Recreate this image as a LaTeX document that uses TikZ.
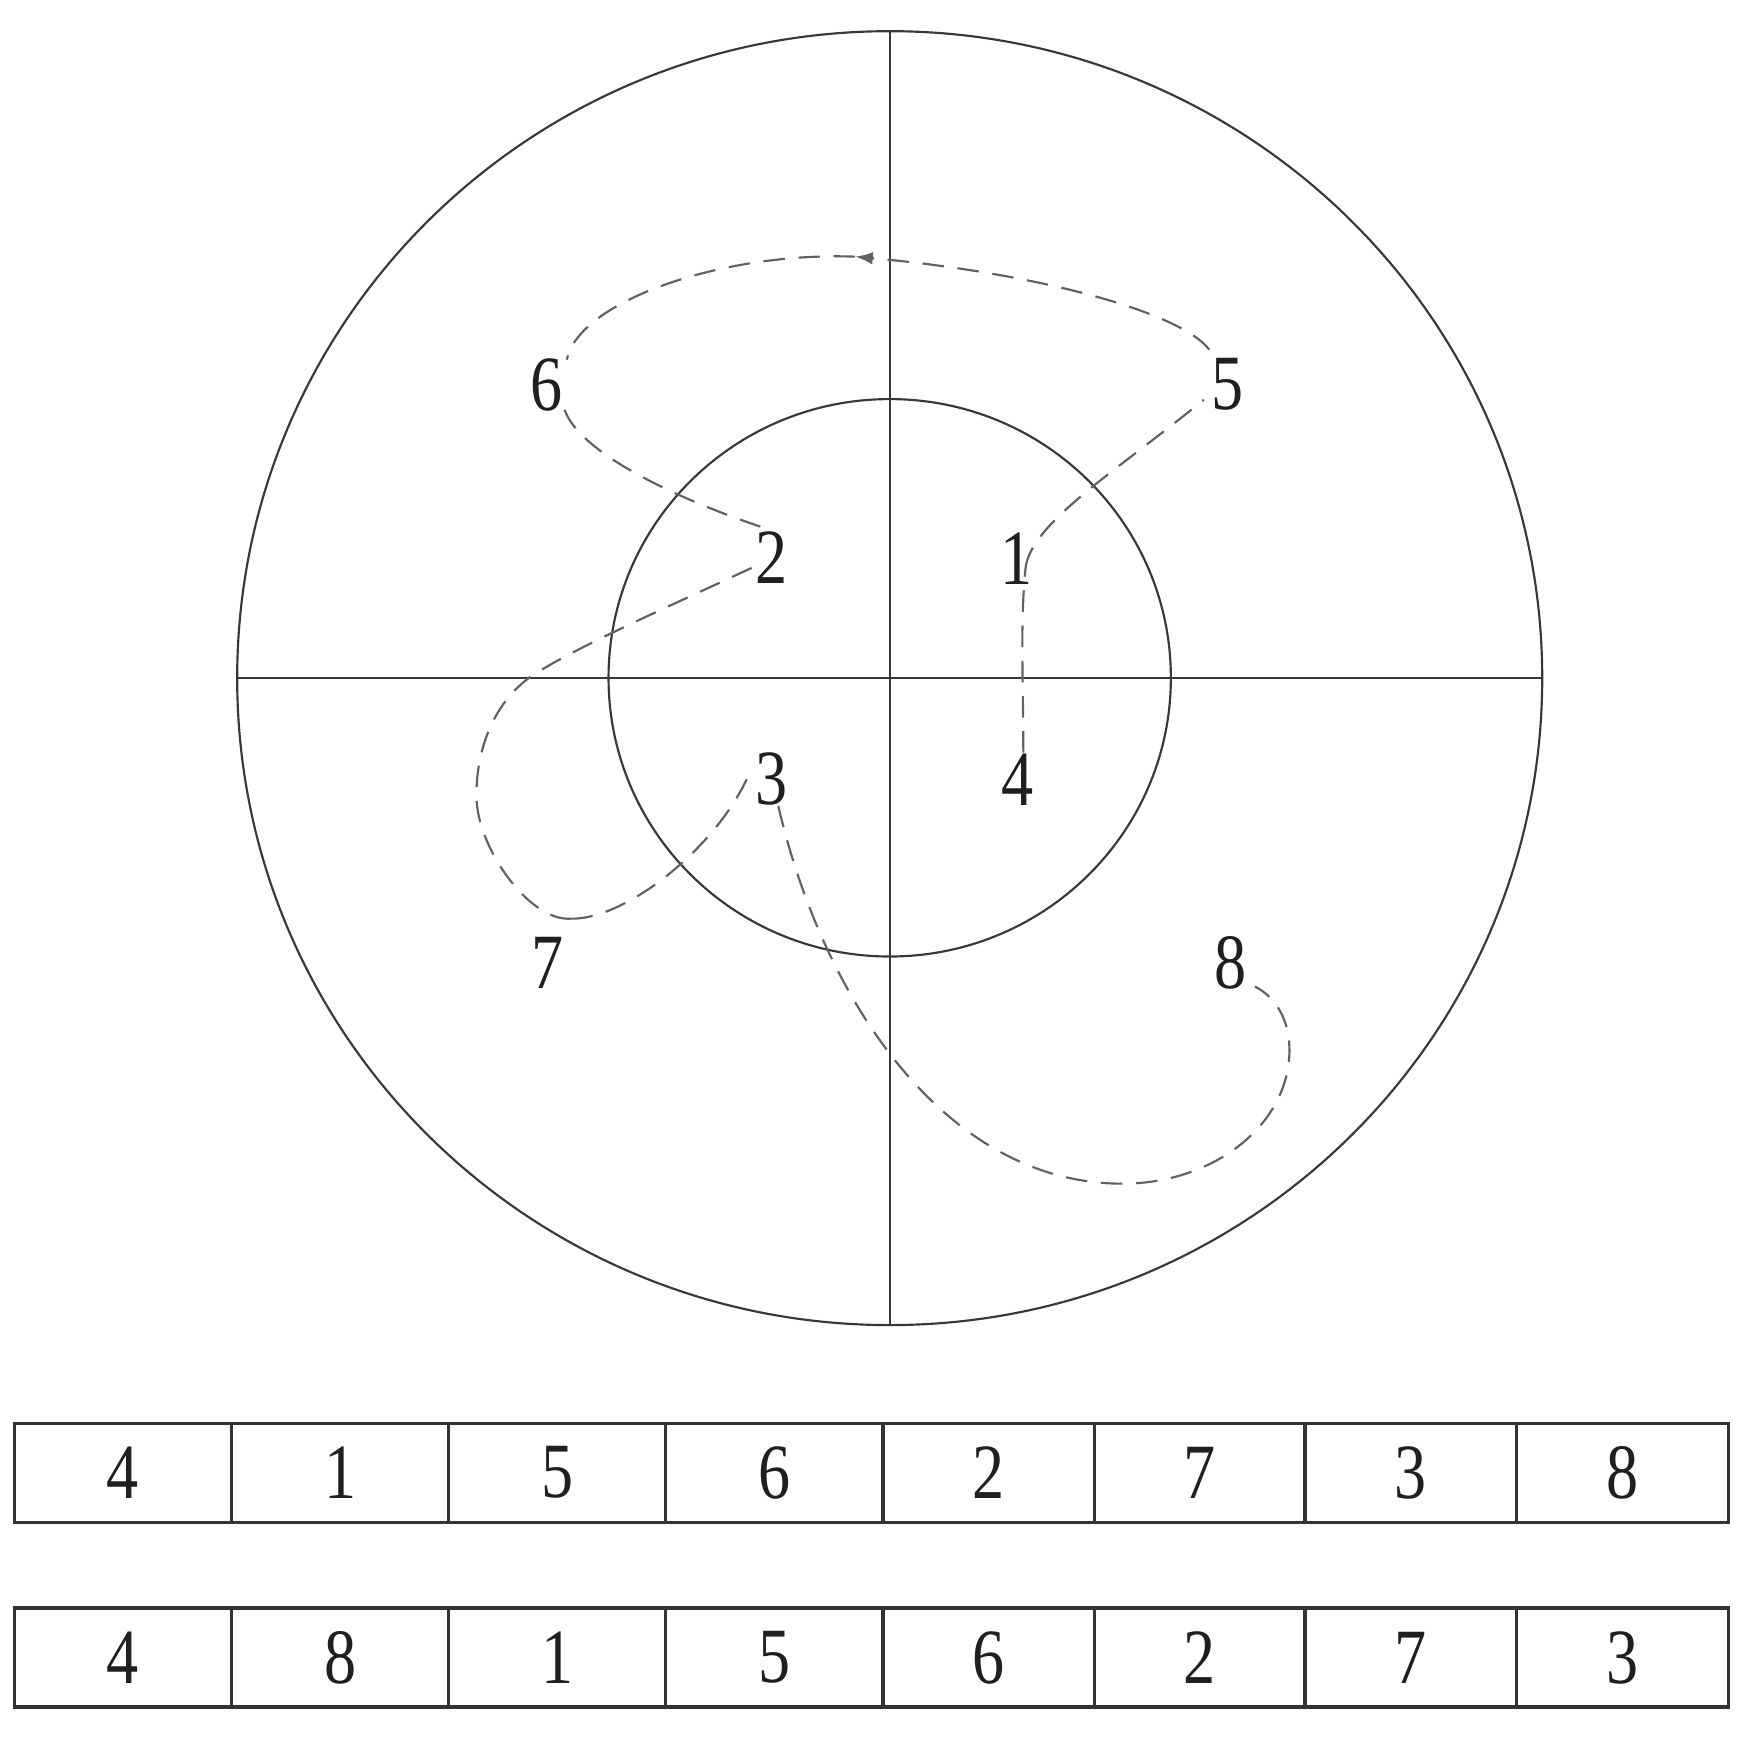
\documentclass[tikz,border=0pt]{standalone}
\usepackage{fontspec}
\setmainfont{Liberation Serif}
\usetikzlibrary{calc,arrows.meta}
\newcommand{\dg}[1]{\scalebox{0.82}[1]{#1}}
\begin{document}
\begin{tikzpicture}[x=0.1mm,y=-0.1mm,
  axisline/.style={draw=black!78, line width=0.55pt},
  route/.style={draw=black!62, line width=0.55pt, dash pattern=on 5.5pt off 3.5pt},
  lbl/.style={inner sep=0pt, font=\fontsize{20}{20}\selectfont, text=black!88},
  cell/.style={draw=black!80, line width=0.8pt, minimum height=8.9mm, inner sep=0pt,
    font=\fontsize{20}{20}\selectfont, text=black!88}]
\useasboundingbox (0,0) rectangle (1568,1563);

% circles and axes
\draw[axisline] (799,609) ellipse [x radius=586, y radius=581];
\draw[axisline] (799,608.7) ellipse [x radius=252.5, y radius=250.3];
\draw[axisline] (213,609) -- (1385,609);
\draw[axisline] (799,28) -- (799,1190);

% labels
\node[lbl] (n1) at (913,502) {\dg{1}};
\node[lbl] (n2) at (693,501) {\dg{2}};
\node[lbl] (n3) at (693,700) {\dg{3}};
\node[lbl] (n4) at (914,700) {\dg{4}};
\node[lbl] (n5) at (1102,345) {\dg{5}};
\node[lbl] (n6) at (491,346) {\dg{6}};
\node[lbl] (n7) at (492,865) {\dg{7}};
\node[lbl] (n8) at (1105,865) {\dg{8}};
\coordinate (atip) at (768,230.5);

% route 4-1-5-6-2-7-3-8
\draw[route] ($(n4)+(5,-24)$) .. controls (919,610) and (916,560) .. ($(n1)+(8,8)$);
\draw[route] ($(n1)+(8,8)$) .. controls (926,470) and (1000,425) .. ($(n5)+(-21,14)$);
\draw[route,-{Latex[length=4.5pt,width=3.2pt]}] ($(n5)+(-16,-31)$) .. controls (1060,280) and (930,245) .. (atip);
\draw[route] (atip) .. controls (650,226) and (520,270) .. ($(n6)+(18,-23)$);
\draw[route] ($(n6)+(16,22)$) .. controls (520,405) and (600,445) .. ($(n2)+(-10,-28)$);
\draw[route] ($(n2)+(-18,9)$) .. controls (600,545) and (520,580) .. (479,606)
  .. controls (440,632) and (427,680) .. (428,716)
  .. controls (428,760) and (475,828) .. ($(n7)+(21,-40)$);
\draw[route] ($(n7)+(21,-40)$) .. controls (560,826) and (640,765) .. ($(n3)+(-22,-1)$);
\draw[route] ($(n3)+(6,24)$) .. controls (740,900) and (850,1063) .. (1008,1063)
  .. controls (1090,1063) and (1158,1010) .. (1158,943)
  .. controls (1158,915) and (1145,895) .. ($(n8)+(22,21)$);

% table row 1
\node[cell, minimum width=19.5mm] (a1) at (110.5,1322.5) {\dg{4}};
\node[cell, minimum width=19.5mm] (a2) at (305.5,1322.5) {\dg{1}};
\node[cell, minimum width=19.5mm] (a3) at (500.5,1322.5) {\dg{5}};
\node[cell, minimum width=19.5mm] (a4) at (695.5,1322.5) {\dg{6}};
\node[cell, minimum width=19.0mm] (a5) at (888,1322.5) {\dg{2}};
\node[cell, minimum width=18.9mm] (a6) at (1077.5,1322.5) {\dg{7}};
\node[cell, minimum width=19.0mm] (a7) at (1267,1322.5) {\dg{3}};
\node[cell, minimum width=19.0mm] (a8) at (1457,1322.5) {\dg{8}};
% table row 2
\node[cell, minimum width=19.5mm] (b1) at (110.5,1488.5) {\dg{4}};
\node[cell, minimum width=19.5mm] (b2) at (305.5,1488.5) {\dg{8}};
\node[cell, minimum width=19.5mm] (b3) at (500.5,1488.5) {\dg{1}};
\node[cell, minimum width=19.5mm] (b4) at (695.5,1488.5) {\dg{5}};
\node[cell, minimum width=19.0mm] (b5) at (888,1488.5) {\dg{6}};
\node[cell, minimum width=18.9mm] (b6) at (1077.5,1488.5) {\dg{2}};
\node[cell, minimum width=19.0mm] (b7) at (1267,1488.5) {\dg{7}};
\node[cell, minimum width=19.0mm] (b8) at (1457,1488.5) {\dg{3}};
\end{tikzpicture}
\end{document}
